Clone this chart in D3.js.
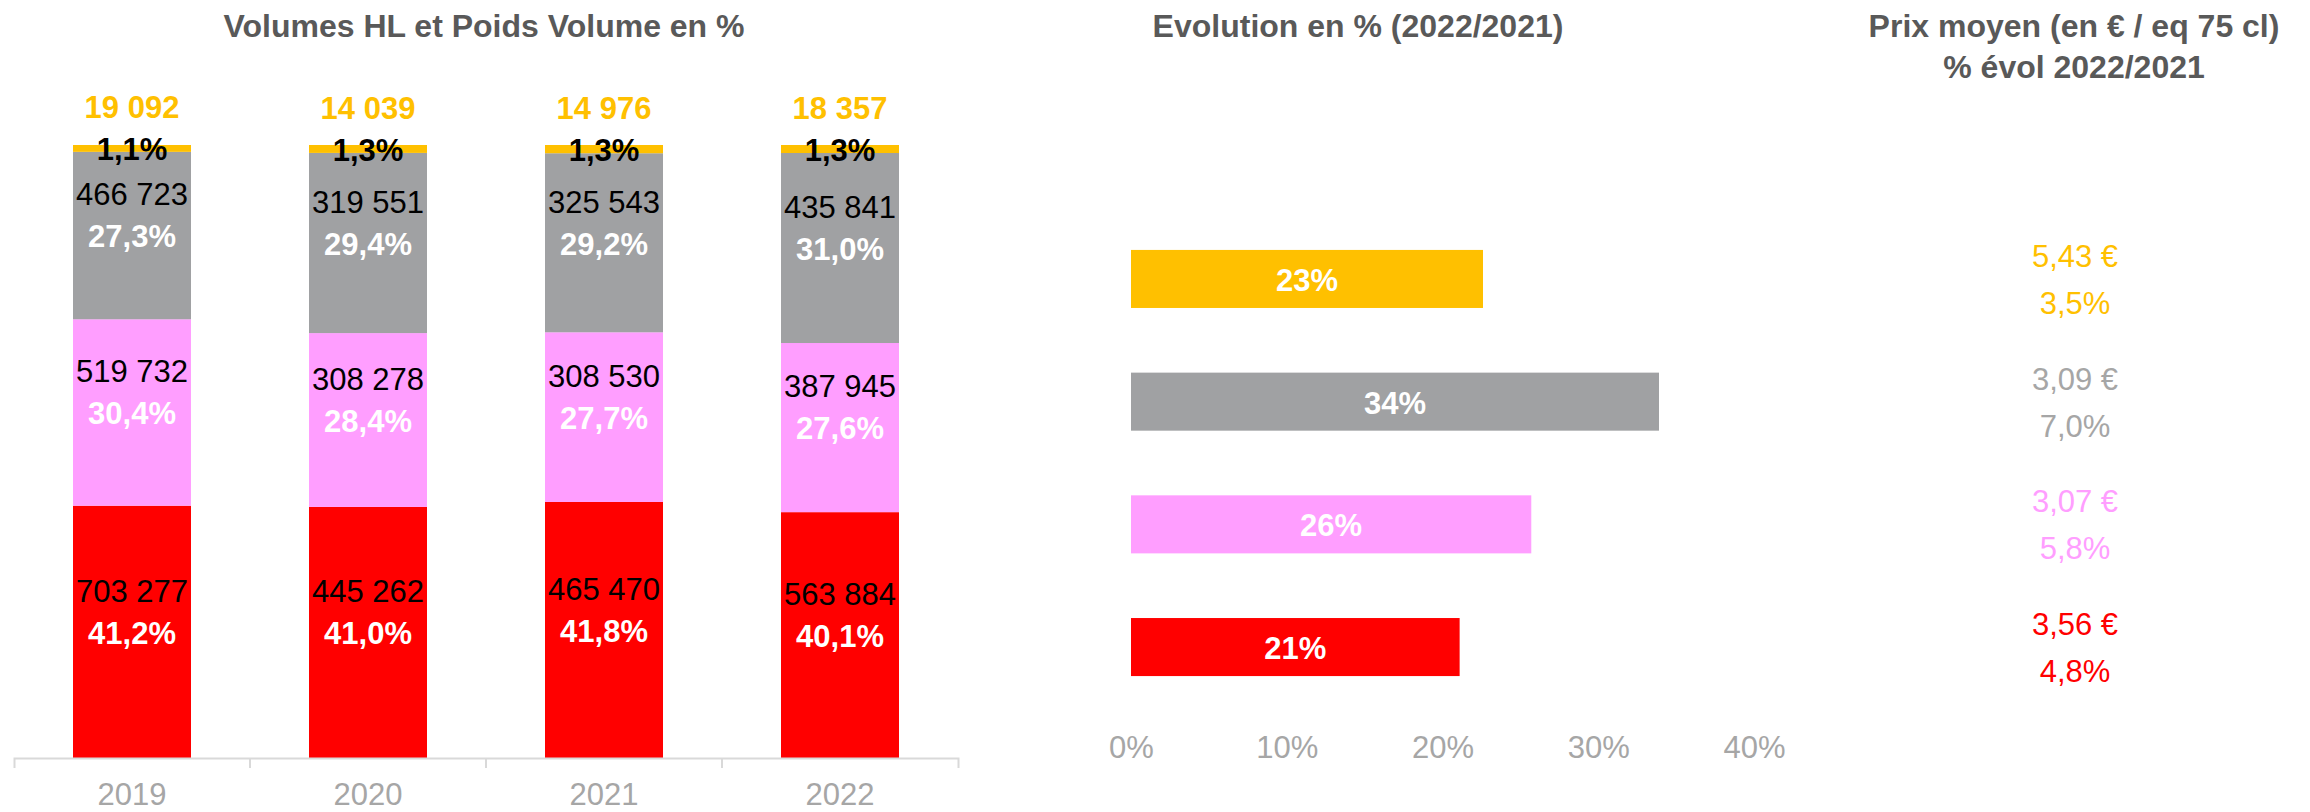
<!DOCTYPE html>
<html>
<head>
<meta charset="utf-8">
<script src="https://cdn.jsdelivr.net/npm/d3@7"></script>
<style>
body { margin: 0; background: #fff; }
text { font-family: "Liberation Sans", Arial, Helvetica, sans-serif; }
</style>
</head>
<body>
<svg id="chart"></svg>
<script>
// left chart : volumes HL by year, stacked to 100%
var years = ['2019', '2020', '2021', '2022'];
var segKeys = ['rouge', 'rose', 'gris', 'jaune'];
var volRouge = [703277, 445262, 465470, 563884];
var volRose = [519732, 308278, 308530, 387945];
var volGris = [466723, 319551, 325543, 435841];
var volJaune = [19092, 14039, 14976, 18357];
var partRouge = [41.2, 41.0, 41.8, 40.1];
var partRose = [30.4, 28.4, 27.7, 27.6];
var partGris = [27.3, 29.4, 29.2, 31.0];
var partJaune = [1.1, 1.3, 1.3, 1.3];

// right chart : evolution 2022/2021 and average price
var evoCats = ['jaune', 'gris', 'rose', 'rouge'];
var evoValues = [22.6, 33.9, 25.7, 21.1];
var prix = [5.43, 3.09, 3.07, 3.56];
var prixEvol = [3.5, 7.0, 5.8, 4.8];
var evoTicks = [0, 10, 20, 30, 40];

var colors = {rouge: '#FF0000', rose: '#FF9EFF', gris: '#A0A1A3', jaune: '#FFC000'};
var titleColor = '#595959', axisColor = '#A6A6A6';

var vols = {rouge: volRouge, rose: volRose, gris: volGris, jaune: volJaune};
var parts = {rouge: partRouge, rose: partRose, gris: partGris, jaune: partJaune};

var fr = d3.formatLocale({decimal: ',', thousands: ' ', grouping: [3], currency: ['', ' €']});
var fmtVol = fr.format(',d');
var fmt1 = fr.format('.1f');
var fmtPrix = fr.format('$.2f');

var width = 2310, height = 812;
var chart = d3.select('#chart')
	.attr('width', width)
	.attr('height', height);

chart.append('rect').attr('width', width).attr('height', height).attr('fill', '#fff');

// ---------- left stacked bars
var rows = years.map(function(y, i) {
	var r = {year: y};
	segKeys.forEach(function(k) { r[k] = vols[k][i]; });
	return r;
});

var series = d3.stack().keys(segKeys).offset(d3.stackOffsetExpand)(rows);

var xScale = d3.scaleBand()
	.domain(years)
	.range([14, 958])
	.paddingInner(0.5)
	.paddingOuter(0.25);

var yScale = d3.scaleLinear()
	.domain([0, 1])
	.range([758, 145]);

chart.append('text')
	.attr('x', 484).attr('y', 26).attr('dy', '0.35em')
	.attr('text-anchor', 'middle')
	.attr('font-size', 32).attr('font-weight', 'bold')
	.attr('fill', titleColor)
	.text('Volumes HL et Poids Volume en %');

var layers = chart.append('g').attr('id', 'bars-container')
	.selectAll('g')
	.data(series)
	.enter().append('g')
	.attr('fill', function(s) { return colors[s.key]; });

layers.selectAll('rect')
	.data(function(s) { return s; })
	.enter().append('rect')
	.attr('x', function(d) { return xScale(d.data.year); })
	.attr('y', function(d) { return yScale(d[1]); })
	.attr('width', xScale.bandwidth())
	.attr('height', function(d) { return yScale(d[0]) - yScale(d[1]); });

var labels = chart.append('g').attr('id', 'labels');
series.forEach(function(s) {
	var top = s.key === 'jaune';
	s.forEach(function(d, i) {
		var cx = xScale(d.data.year) + xScale.bandwidth() / 2;
		var cy = yScale((d[0] + d[1]) / 2);
		labels.append('text')
			.attr('x', cx).attr('y', cy - 41).attr('dy', '0.35em')
			.attr('text-anchor', 'middle')
			.attr('font-size', 31)
			.attr('font-weight', top ? 'bold' : 'normal')
			.attr('fill', top ? colors.jaune : '#000')
			.text(fmtVol(vols[s.key][i]));
		labels.append('text')
			.attr('x', cx).attr('y', cy + 1).attr('dy', '0.35em')
			.attr('text-anchor', 'middle')
			.attr('font-size', 31).attr('font-weight', 'bold')
			.attr('fill', top ? '#000' : '#fff')
			.text(fmt1(parts[s.key][i]) + '%');
	});
});

var xAxis = chart.append('g')
	.attr('id', 'x-axis')
	.attr('transform', 'translate(0,758)')
	.call(d3.axisBottom(xScale).tickSize(0).tickSizeOuter(10).tickPadding(25));
xAxis.select('.domain').attr('stroke', '#D9D9D9').attr('stroke-width', 2);
xAxis.selectAll('text')
	.attr('font-size', 31)
	.attr('font-family', null)
	.attr('fill', axisColor);
xAxis.selectAll('.sep')
	.data(years.slice(1))
	.enter().append('line')
	.attr('class', 'sep')
	.attr('x1', function(d) { return xScale(d) - xScale.step() * xScale.paddingInner() / 2; })
	.attr('x2', function(d) { return xScale(d) - xScale.step() * xScale.paddingInner() / 2; })
	.attr('y1', 0).attr('y2', 10)
	.attr('stroke', '#D9D9D9').attr('stroke-width', 2);

// ---------- right horizontal bars
var xEvo = d3.scaleLinear()
	.domain([0, 40])
	.range([1131, 1754]);

var yEvo = d3.scaleBand()
	.domain(evoCats)
	.range([217.6, 708.4])
	.paddingInner(0.527)
	.paddingOuter(0.2635);

chart.append('text')
	.attr('x', 1358).attr('y', 26).attr('dy', '0.35em')
	.attr('text-anchor', 'middle')
	.attr('font-size', 32).attr('font-weight', 'bold')
	.attr('fill', titleColor)
	.text('Evolution en % (2022/2021)');

var evo = chart.append('g').attr('id', 'evo');
evo.selectAll('rect')
	.data(evoCats)
	.enter().append('rect')
	.attr('x', xEvo(0))
	.attr('y', function(d) { return yEvo(d); })
	.attr('width', function(d, i) { return xEvo(evoValues[i]) - xEvo(0); })
	.attr('height', yEvo.bandwidth())
	.attr('fill', function(d) { return colors[d]; });

evo.selectAll('text')
	.data(evoCats)
	.enter().append('text')
	.attr('x', function(d, i) { return (xEvo(0) + xEvo(evoValues[i])) / 2; })
	.attr('y', function(d) { return yEvo(d) + yEvo.bandwidth() / 2 + 1; })
	.attr('dy', '0.35em')
	.attr('text-anchor', 'middle')
	.attr('font-size', 31).attr('font-weight', 'bold')
	.attr('fill', '#fff')
	.text(function(d, i) { return d3.format('.0f')(evoValues[i]) + '%'; });

var evoAxis = chart.append('g')
	.attr('transform', 'translate(0,736)')
	.call(d3.axisBottom(xEvo).tickValues(evoTicks).tickSize(0).tickPadding(0)
		.tickFormat(function(d) { return d + '%'; }));
evoAxis.select('.domain').remove();
evoAxis.selectAll('text')
	.attr('font-size', 31)
	.attr('fill', axisColor);

// ---------- prices
var px = 2075;
chart.append('text')
	.attr('x', 2074).attr('y', 26).attr('dy', '0.35em')
	.attr('text-anchor', 'middle')
	.attr('font-size', 32).attr('font-weight', 'bold')
	.attr('fill', titleColor)
	.text('Prix moyen (en € / eq 75 cl)');
chart.append('text')
	.attr('x', 2074).attr('y', 67).attr('dy', '0.35em')
	.attr('text-anchor', 'middle')
	.attr('font-size', 32).attr('font-weight', 'bold')
	.attr('fill', titleColor)
	.text('% évol 2022/2021');

var prices = chart.append('g').attr('id', 'prices');
evoCats.forEach(function(k, i) {
	var cy = yEvo(k) + yEvo.bandwidth() / 2;
	prices.append('text')
		.attr('x', px).attr('y', cy - 23).attr('dy', '0.35em')
		.attr('text-anchor', 'middle')
		.attr('font-size', 31)
		.attr('fill', k === 'gris' ? axisColor : colors[k])
		.text(fmtPrix(prix[i]));
	prices.append('text')
		.attr('x', px).attr('y', cy + 24).attr('dy', '0.35em')
		.attr('text-anchor', 'middle')
		.attr('font-size', 31)
		.attr('fill', k === 'gris' ? axisColor : colors[k])
		.text(fmt1(prixEvol[i]) + '%');
});
</script>
</body>
</html>
